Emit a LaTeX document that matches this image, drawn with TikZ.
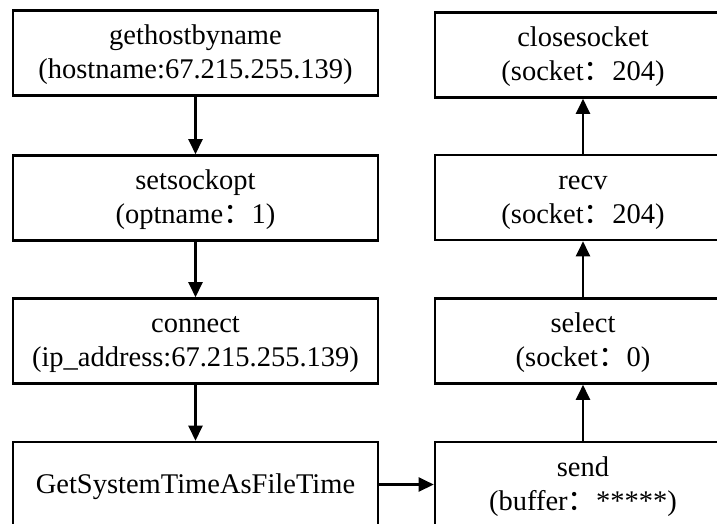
\documentclass[tikz,border=0pt]{standalone}
\usepackage{fontspec}
\setmainfont{Liberation Serif}
\newfontfamily\cjk{Noto Sans CJK SC}
\usetikzlibrary{arrows.meta}
% full-width colon, kept from changing the line height
\newcommand{\fwcolon}{\smash{\cjk ：}}
% fixed line box so every line sits at the same baseline
\newcommand{\ls}{\rule[-4pt]{0pt}{28pt}}
\tikzset{
  callbox/.style={draw=black, line width=2.6pt, fill=white, inner sep=0pt,
    minimum height=85pt, align=center,
    font=\fontsize{28.5}{34}\selectfont},
  leftbox/.style={callbox, minimum width=365pt},
  rightbox/.style={callbox, minimum width=296pt},
  flow/.style={line width=2.4pt, -{Triangle[length=15pt,width=14pt]}}
}
\begin{document}
\begin{tikzpicture}[x=1pt, y=-1pt]
  \useasboundingbox (0,0) rectangle (717,523);
  \clip (0,0) rectangle (717,523);
  % left column, top to bottom
  \node[leftbox] (ghbn) at (195.5,53) {\ls gethostbyname\\\ls(hostname:67.215.255.139)};
  \node[leftbox] (sso)  at (195.5,198) {\ls setsockopt\\\ls(optname\fwcolon 1)};
  \node[leftbox] (conn) at (195.5,341) {\ls connect\\\ls(ip\_address:67.215.255.139)};
  \node[leftbox] (gst)  at (195.5,484.5) {\ls GetSystemTimeAsFileTime};
  % right column, bottom to top
  \node[rightbox] (send) at (583,484.5) {\ls send\\\ls(buffer\fwcolon *****)};
  \node[rightbox] (sel)  at (583,341) {\ls select\\\ls(socket\fwcolon 0)};
  \node[rightbox] (recv) at (583,197.5) {\ls recv\\\ls(socket\fwcolon 204)};
  \node[rightbox] (cls)  at (583,55) {\ls closesocket\\\ls(socket\fwcolon 204)};
  % connectors
  \draw[flow] (ghbn) -- (sso);
  \draw[flow] (sso) -- (conn);
  \draw[flow] (conn) -- (gst);
  \draw[flow] (gst) -- (send);
  \draw[flow] (send) -- (sel);
  \draw[flow] (sel) -- (recv);
  \draw[flow] (recv) -- (cls);
\end{tikzpicture}
\end{document}
